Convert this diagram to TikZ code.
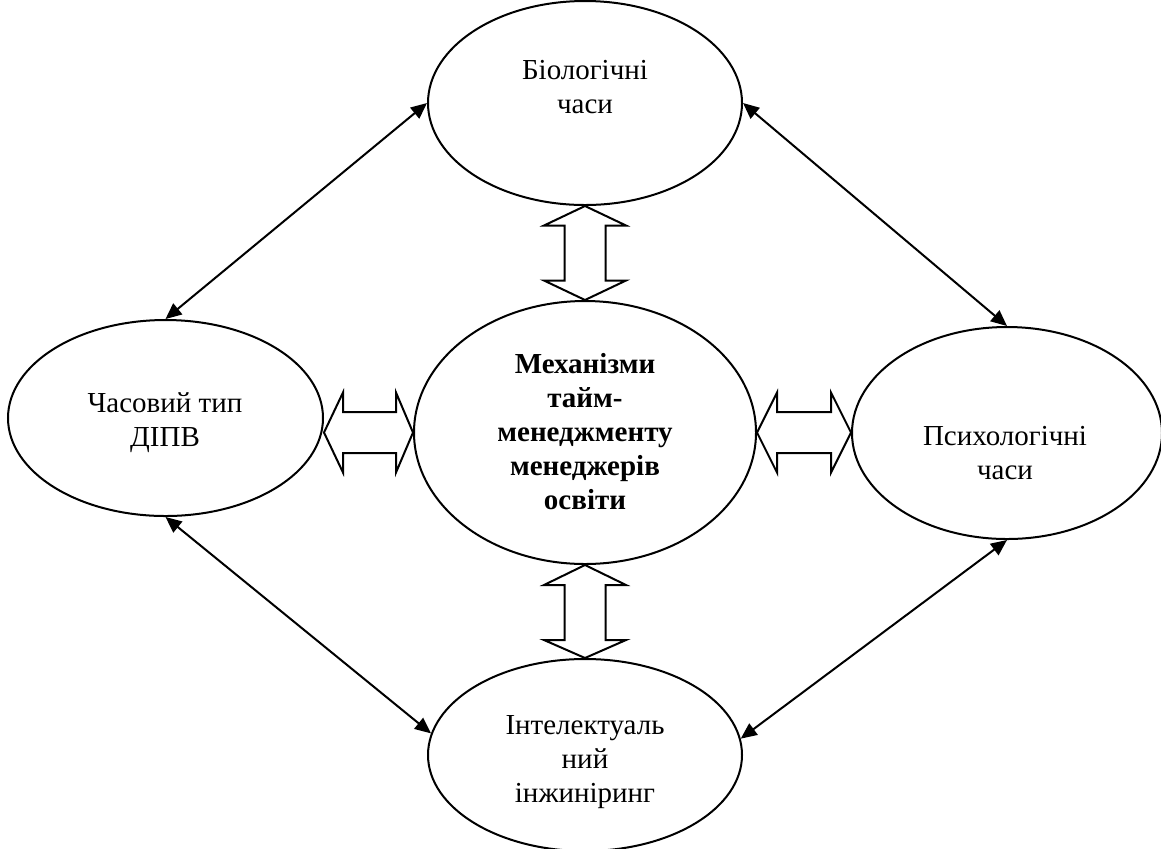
\documentclass[tikz,border=0pt]{standalone}
\usepackage{fontspec}
\setmainfont{Liberation Serif}
\usetikzlibrary{arrows.meta,shapes.geometric,calc}
\begin{document}
\begin{tikzpicture}[x=0.5pt,y=-0.5pt,
  oval/.style={draw, line width=1pt, ellipse, inner sep=0pt},
  txt/.style={align=center, inner sep=0pt, font=\fontsize{14.5}{17}\selectfont},
  link/.style={line width=1pt, {Triangle[length=8pt,width=7pt]}-{Triangle[length=8pt,width=7pt]}},
  hollow/.style={draw, line width=1pt, line join=miter, fill=white}]
\useasboundingbox (0,0) rectangle (1161,848);

% the five ovals
\node[oval, minimum width=157pt, minimum height=102pt] (bio) at (585,103) {};
\node[oval, minimum width=157.5pt, minimum height=98pt] (type) at (165.5,418) {};
\node[oval, minimum width=171pt, minimum height=131.5pt] (mech) at (585,432.5) {};
\node[oval, minimum width=155pt, minimum height=106pt] (psy) at (1007,433) {};
\node[oval, minimum width=157pt, minimum height=96pt] (intel) at (585,755) {};

% their texts
\node[txt] (biot) at (585,87) {Біологічні\\часи};
\node[txt] (typet) at (165,423) {Часовий тип\\ДІПВ};
\node[txt, font=\fontsize{14.5}{17}\selectfont\bfseries] (mecht) at (585,432) {Механізми\\тайм-\\менеджменту\\менеджерів\\освіти};
\node[txt] (psyt) at (1005,453) {Психологічні\\часи};
\node[txt] (intelt) at (585,762) {Інтелектуаль\\ний\\інжиніринг};

% thin two-headed links around the centre
\draw[link] (bio.west) -- (type.north);
\draw[link] (bio.east) -- (psy.north);
\draw[link] (type.south) -- (intel.172);
\draw[link] (psy.south) -- (intel.6);

% hollow double arrows to the centre
\draw[hollow] (bio.south) -- ++(41,19.5) -- ++(-20.5,0)
  -- ($(mech.north)+(20.5,-19.5)$) -- ++(20.5,0) -- (mech.north)
  -- ++(-41,-19.5) -- ++(20.5,0)
  -- ($(bio.south)+(-20.5,19.5)$) -- ++(-20.5,0) -- cycle;

\draw[hollow] (mech.south) -- ++(41,20) -- ++(-20.5,0)
  -- ($(intel.north)+(20.5,-18)$) -- ++(20.5,0) -- (intel.north)
  -- ++(-41,-18) -- ++(20.5,0)
  -- ($(mech.south)+(-20.5,20)$) -- ++(-20.5,0) -- cycle;

\coordinate (lt) at (type.east |- mech.west);
\draw[hollow] (lt) -- ++(19,-40) -- ++(0,19.5)
  -- ($(mech.west)+(-17,-20.5)$) -- ++(0,-19.5) -- (mech.west)
  -- ++(-17,40) -- ++(0,-19.5)
  -- ($(lt)+(19,20.5)$) -- ++(0,19.5) -- cycle;

\coordinate (rt) at (psy.west |- mech.east);
\draw[hollow] (mech.east) -- ++(20,-40) -- ++(0,19.5)
  -- ($(rt)+(-20,-20.5)$) -- ++(0,-19.5) -- (rt)
  -- ++(-20,40) -- ++(0,-19.5)
  -- ($(mech.east)+(20,20.5)$) -- ++(0,19.5) -- cycle;
\end{tikzpicture}
\end{document}
